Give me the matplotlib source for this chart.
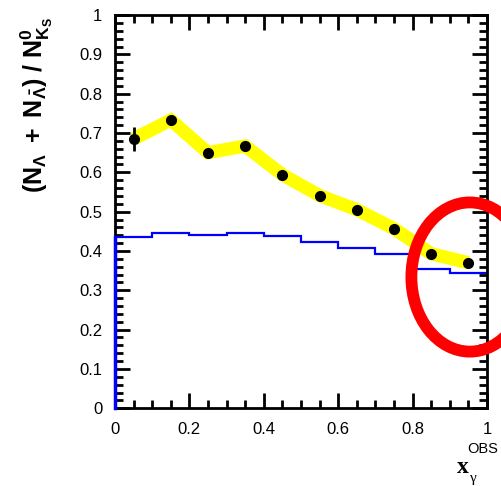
import numpy as np
import matplotlib.pyplot as plt
from matplotlib.patches import Ellipse
from matplotlib.ticker import MultipleLocator

# --- data ---
x_pts = [0.05, 0.15, 0.25, 0.35, 0.45, 0.55, 0.65, 0.75, 0.85, 0.95]
ratio = [0.685, 0.733, 0.650, 0.667, 0.594, 0.541, 0.505, 0.457, 0.393, 0.370]
ratio_err = [0.030, 0.012, 0.010, 0.010, 0.009, 0.008, 0.007, 0.007, 0.008, 0.012]

bin_edges = [0.0, 0.1, 0.2, 0.3, 0.4, 0.5, 0.6, 0.7, 0.8, 0.9, 1.0]
mc_ratio = [0.435, 0.445, 0.441, 0.446, 0.437, 0.422, 0.408, 0.392, 0.353, 0.343]

plt.rcParams['font.family'] = ['Liberation Sans', 'DejaVu Sans']
plt.rcParams['mathtext.fontset'] = 'custom'
plt.rcParams['mathtext.rm'] = 'Liberation Sans'
plt.rcParams['mathtext.bf'] = 'Liberation Sans:bold'
plt.rcParams['mathtext.it'] = 'Liberation Sans:italic'

fig = plt.figure(figsize=(5.02, 4.86), dpi=100)
ax = fig.add_axes([0.229, 0.160, 0.741, 0.809])

# MC histogram (blue steps), left edge drawn over the frame
ax.stairs(mc_ratio, bin_edges, color='#0000ff', lw=1.6, baseline=None, zorder=2)
ax.plot([bin_edges[0], bin_edges[0]], [0, mc_ratio[0]], color='#0000ff',
        lw=2.5, clip_on=False, zorder=6)

# yellow error band + data points
ax.plot(x_pts, ratio, color='#ffff00', lw=9.5, solid_capstyle='butt',
        solid_joinstyle='miter', zorder=3)
ax.errorbar(x_pts, ratio, yerr=ratio_err, fmt='o', color='black', ms=7,
            elinewidth=2, capsize=0, zorder=4)

ax.set_xlim(0, 1)
ax.set_ylim(0, 1)
ax.xaxis.set_major_locator(MultipleLocator(0.2))
ax.xaxis.set_minor_locator(MultipleLocator(0.05))
ax.yaxis.set_major_locator(MultipleLocator(0.1))
ax.yaxis.set_minor_locator(MultipleLocator(0.02))
ax.xaxis.set_major_formatter(plt.FuncFormatter(lambda v, p: f'{v:g}'))
ax.yaxis.set_major_formatter(plt.FuncFormatter(lambda v, p: f'{v:g}'))
ax.tick_params(which='both', direction='in', top=True, right=True,
               width=2, labelsize=12)
ax.tick_params(axis='y', pad=9)
ax.tick_params(axis='x', pad=10)
ax.tick_params(which='major', length=11)
ax.tick_params(which='minor', length=6)
for s in ax.spines.values():
    s.set_linewidth(2)

ax.set_ylabel(r'$\mathbf{(N_{\Lambda}\ +\ N_{\bar{\Lambda}})\ /\ N^{0}_{K_S}}$',
              fontsize=18)
ax.yaxis.set_label_coords(-0.161, 0.771)

fig.text(0.922, 0.027, 'x', fontsize=17, fontweight='bold',
         family='Liberation Serif', ha='center')
fig.text(0.942, 0.008, 'γ', fontsize=11, family='Liberation Serif', ha='center')
fig.text(0.962, 0.068, 'OBS', fontsize=10.5, ha='center')

# red highlight circle
ell = Ellipse((0.936, 0.430), 0.233, 0.307, transform=fig.transFigure,
              fill=False, edgecolor='#ff0000', lw=8.5, clip_on=False, zorder=10)
fig.patches.append(ell)

fig.savefig('out.png', dpi=100)
